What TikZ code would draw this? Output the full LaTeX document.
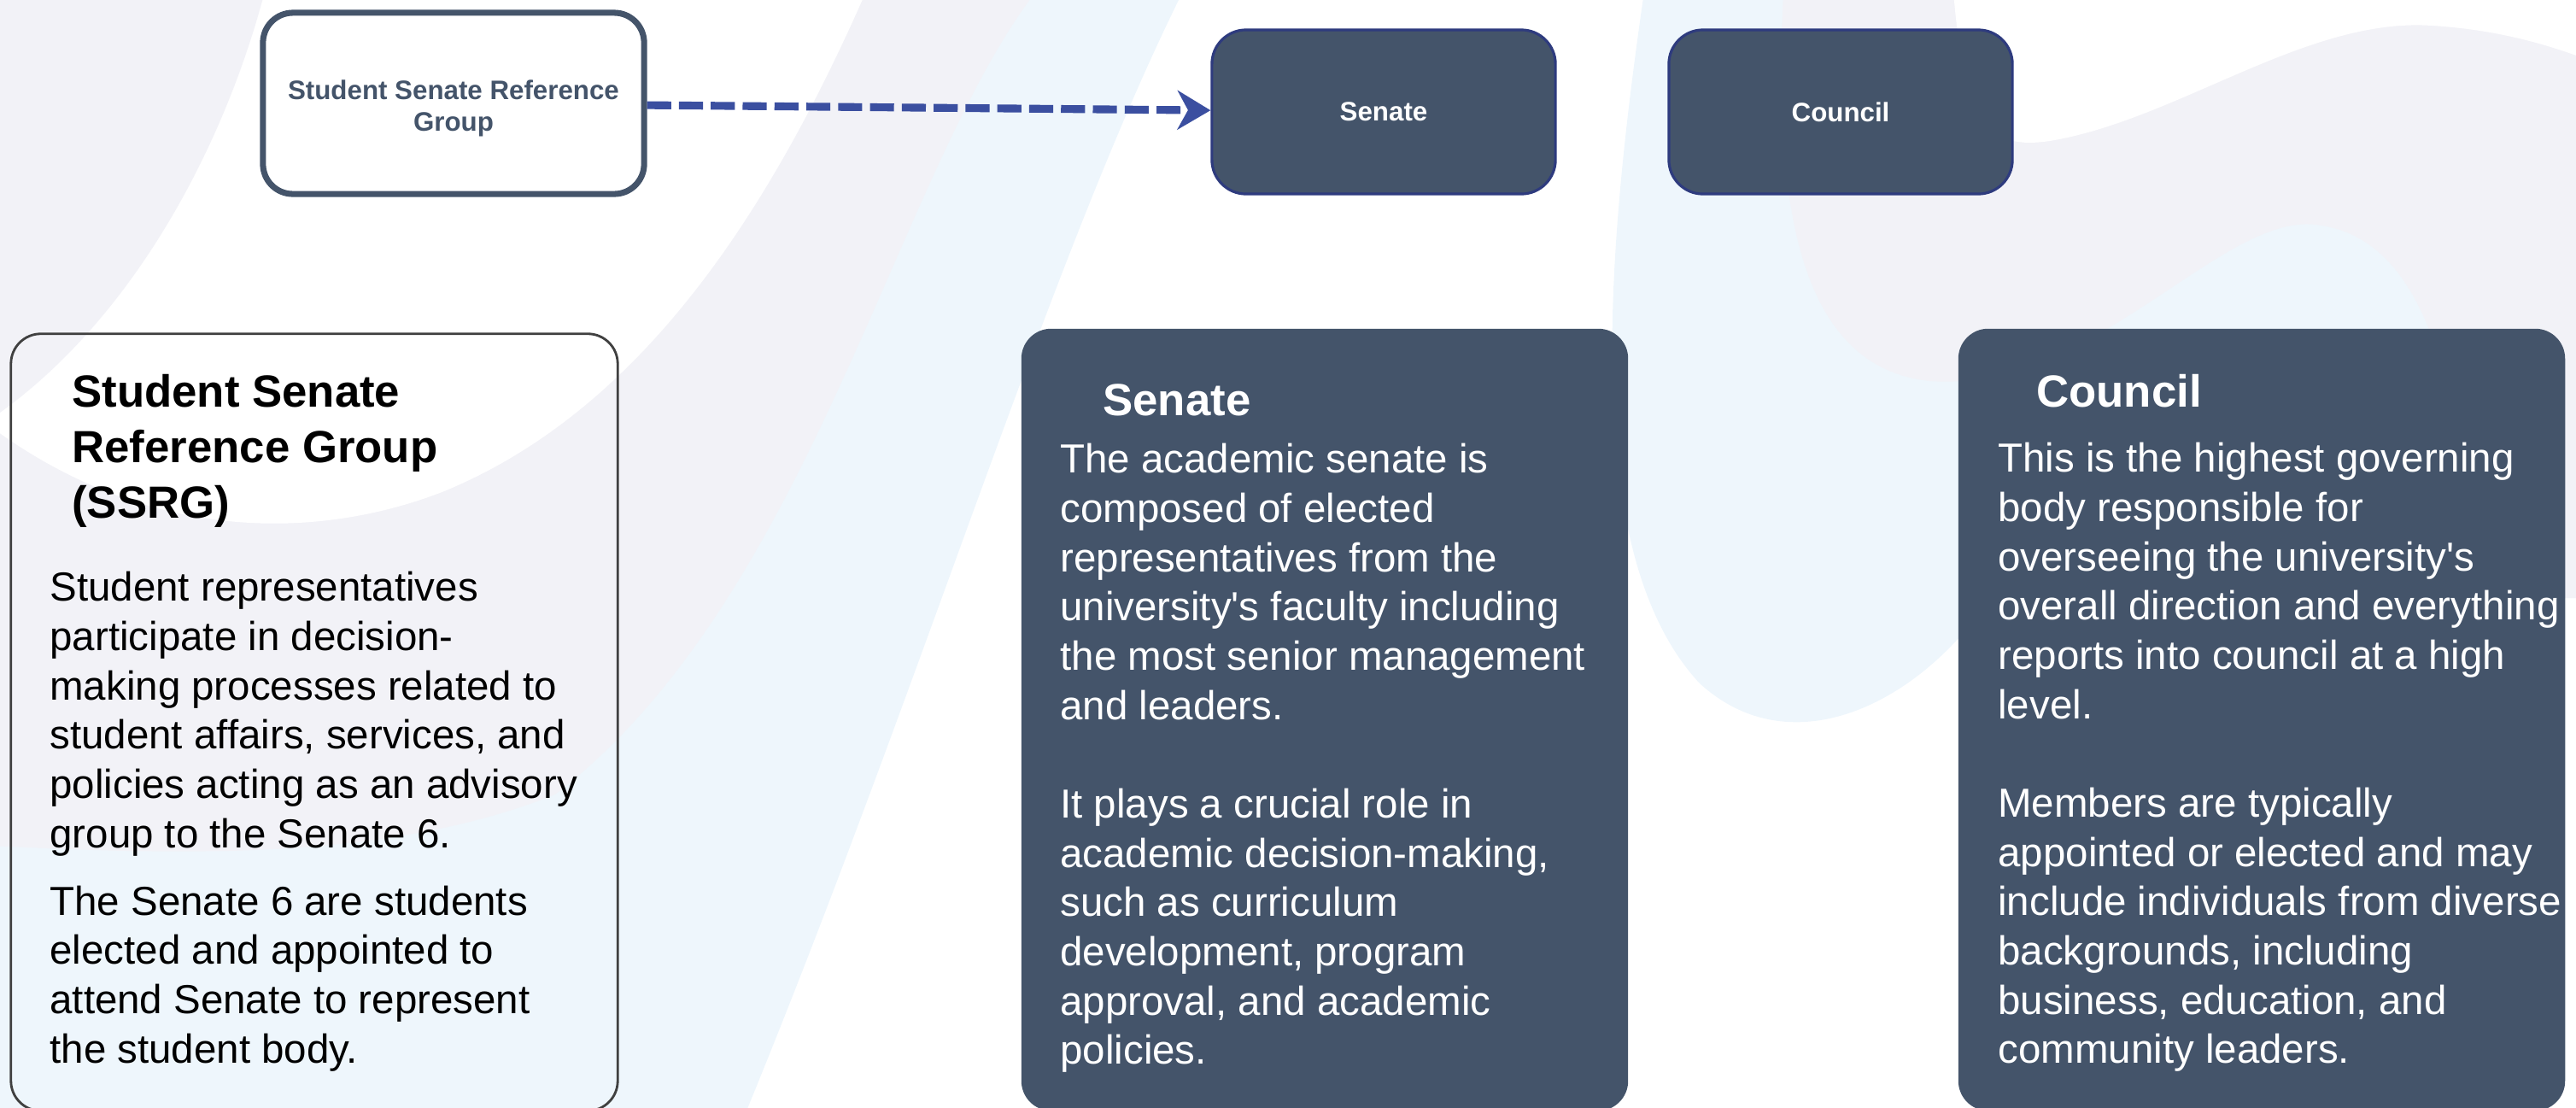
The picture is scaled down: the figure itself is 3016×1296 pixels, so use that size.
\documentclass[tikz,border=0pt]{standalone}
\usepackage{amsmath,amssymb}
\usepackage{xcolor}
\usepackage{tikz}
\usepackage{fontspec}
\setmainfont{Liberation Sans}
\usetikzlibrary{arrows.meta}

\definecolor{slate}{HTML}{44546A}
\definecolor{edgeblue}{HTML}{2E3B7E}
\definecolor{arrowblue}{HTML}{3B4FA0}
\definecolor{lavender}{HTML}{F2F2F7}
\definecolor{paleblue}{HTML}{EEF6FC}

\newcommand{\fs}[2]{\fontsize{#1}{#2}\selectfont}
\newcommand{\topline}{\rule{0pt}{1em}}

\begin{document}
\begin{tikzpicture}[thick, x=0.01cm, y=-0.01cm,
    topbox/.style={rounded corners=0.4cm, minimum width=4.02cm, minimum height=1.92cm, fill=slate, draw=edgeblue, line width=0.9pt, text=white, font=\fs{8.9}{10.5}\bfseries, align=center},
    descbox/.style={rounded corners=0.35cm, minimum width=7.1cm, minimum height=9.15cm},
    headtext/.style={anchor=north west, inner sep=0pt, font=\fs{15}{18.5}\bfseries, align=left},
    bodytext/.style={anchor=north west, inner sep=0pt, font=\fs{13.5}{16.4}, align=left}]
    \useasboundingbox (0,0) rectangle (3016,1296);
    \begin{scope}
    \clip (0,0) rectangle (3016,1296);
    % left swoosh
    \fill[paleblue] (1385,-10) .. controls (1230,300) and (1080,800) .. (870,1310) -- (-10,1310) -- (-10,-10) -- cycle;
    \fill[lavender] (1213,-10) .. controls (1050,200) and (950,700) .. (650,930) .. controls (450,1010) and (200,1000) .. (-10,990) -- (-10,-10) -- cycle;
    \fill[white] (1014,-10) .. controls (900,250) and (750,480) .. (520,575) .. controls (380,630) and (180,640) .. (-10,500) -- (-10,-10) -- cycle;
    \fill[lavender] (-10,-10) -- (310,-10) .. controls (260,180) and (150,380) .. (-10,490) -- cycle;
    % right swoosh
    \fill[paleblue] (1925,-10) .. controls (1880,300) and (1850,650) .. (1990,800) .. controls (2100,900) and (2250,820) .. (2330,700) -- (3030,700) -- (3030,-10) -- cycle;
    \fill[lavender] (2088,-10) .. controls (2075,250) and (2110,430) .. (2259,446) .. controls (2450,460) and (2600,250) .. (2711,263) .. controls (2820,275) and (2880,400) .. (2900,700) -- (3030,700) -- (3030,-10) -- cycle;
    \fill[white] (2287,-10) .. controls (2300,150) and (2330,175) .. (2400,165) .. controls (2550,140) and (2700,20) .. (2847,30) .. controls (2930,35) and (2990,55) .. (3030,70) -- (3030,-10) -- cycle;
    \end{scope}
    %
    \node[draw=slate, line width=2pt, fill=white, rounded corners=0.35cm, minimum width=4.46cm, minimum height=2.12cm, text=slate, font=\fs{8.9}{10.5}\bfseries, align=center] (ssrgtop) at (531,121) {\rule{0pt}{1.1em}Student Senate Reference\\Group};
    \node[topbox] (senatetop) at (1620,131) {Senate};
    \node[topbox] (counciltop) at (2155,131) {Council};
    \draw[arrowblue, line width=2.6pt, dash pattern=on 8pt off 2.6pt, -{Stealth[length=11pt, width=13pt, inset=3.5pt]}] (ssrgtop) -- (senatetop);
    %
    \node[descbox, draw=black!75, line width=0.8pt, minimum height=9.09cm] (ssrgbox) at (368,845.5) {};
    \node[descbox, fill=slate] (senatebox) at (1551,842.5) {};
    \node[descbox, fill=slate] (councilbox) at (2648,842.5) {};
    %
    \node[headtext] (ssrghead) at (83,422) {\topline Student Senate\\Reference Group\\(SSRG)};
    \node[bodytext] (ssrgtext) at (57,655) {\topline Student representatives\\participate in decision-\\making processes related to\\student affairs, services, and\\policies acting as an advisory\\group to the Senate 6.\\[6pt]The Senate 6 are students\\elected and appointed to\\attend Senate to represent\\the student body.};
    \node[headtext, text=white] (senatehead) at (1290,432) {\topline Senate};
    \node[bodytext, text=white] (senatetext) at (1240,505) {\topline The academic senate is\\composed of elected\\representatives from the\\university\textquotesingle s faculty including\\the most senior management\\and leaders.\\[16.4pt]It plays a crucial role in\\academic decision-making,\\such as curriculum\\development, program\\approval, and academic\\policies.};
    \node[headtext, text=white] (councilhead) at (2383,422) {\topline Council};
    \node[bodytext, text=white] (counciltext) at (2338,504) {\topline This is the highest governing\\body responsible for\\overseeing the university\textquotesingle s\\overall direction and everything\\reports into council at a high\\level.\\[16.4pt]Members are typically\\appointed or elected and may\\include individuals from diverse\\backgrounds, including\\business, education, and\\community leaders.};
\end{tikzpicture}
\end{document}
